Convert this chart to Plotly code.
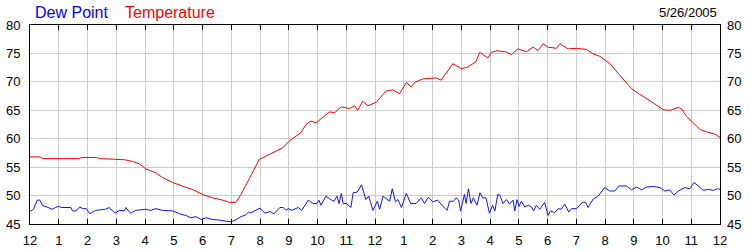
import plotly.graph_objects as go

# Temperature (°F) vs. hour of day (decimal hours, 0 = midnight)
temp_hours = [0.0, 0.35, 0.45, 1.0, 1.7, 1.8, 2.3, 2.45, 3.0, 3.3, 3.56, 3.8, 4.03, 4.38, 4.6,
              4.96, 5.34, 5.69, 6.0, 6.35, 6.7, 6.93, 7.16, 7.34, 7.63, 7.98, 8.32, 8.79, 9.02,
              9.43, 9.6, 9.77, 9.95, 10.41, 10.6, 10.82, 11.11, 11.29, 11.4, 11.57, 11.75, 12.04,
              12.39, 12.62, 12.85, 13.09, 13.26, 13.38, 13.66, 14.13, 14.3, 14.48, 14.71, 15.0,
              15.23, 15.52, 15.64, 15.93, 16.05, 16.28, 16.34, 16.55, 16.74, 16.97, 17.27, 17.5,
              17.67, 17.85, 18.02, 18.31, 18.43, 18.72, 19.01, 19.36, 19.59, 19.82, 20.17, 20.34,
              20.63, 20.92, 21.21, 21.45, 21.68, 22.02, 22.26, 22.55, 22.67, 22.84, 23.07, 23.31,
              23.6, 23.83, 24.0]
temp_values = [56.8, 56.8, 56.5, 56.5, 56.5, 56.7, 56.7, 56.5, 56.4, 56.3, 56.0, 55.6, 54.7, 54.0,
               53.2, 52.3, 51.6, 51.0, 50.2, 49.6, 49.2, 48.8, 48.8, 50.2, 53.0, 56.4, 57.2, 58.4,
               59.6, 61.1, 62.5, 63.1, 62.8, 64.7, 64.6, 65.6, 65.3, 65.8, 65.0, 66.6, 65.8, 66.4,
               68.4, 68.6, 67.9, 69.9, 69.1, 69.9, 70.5, 70.7, 70.3, 71.6, 73.2, 72.3, 72.6, 73.6,
               75.2, 74.2, 75.2, 75.5, 75.4, 75.3, 74.8, 75.8, 75.3, 76.1, 75.5, 76.7, 76.1, 75.9,
               76.7, 75.8, 75.9, 75.7, 74.9, 74.5, 73.2, 72.2, 70.4, 68.8, 67.8, 67.1, 66.3, 65.1,
               65.0, 65.5, 65.2, 63.9, 62.8, 61.6, 61.1, 60.8, 60.2]

# Dew point (°F) vs. hour of day
dew_hours = [0.0, 0.12, 0.25, 0.34, 0.43, 0.6, 0.78, 0.88, 0.99, 1.1, 1.42, 1.48, 1.6, 1.73, 1.83,
             1.96, 2.08, 2.29, 2.63, 2.75, 2.96, 3.1, 3.28, 3.33, 3.5, 3.68, 4.03, 4.2, 4.38, 4.61,
             4.96, 5.2, 5.42, 5.6, 5.77, 5.95, 6.12, 6.35, 6.58, 6.93, 7.05, 7.19, 7.34, 7.5, 7.6,
             7.65, 8.0, 8.17, 8.35, 8.49, 8.69, 8.81, 8.9, 8.98, 9.1, 9.33, 9.45, 9.68, 9.85, 9.97,
             10.05, 10.12, 10.29, 10.43, 10.57, 10.68, 10.75, 10.83, 10.89, 11.0, 11.16, 11.24,
             11.38, 11.53, 11.68, 11.78, 11.93, 12.08, 12.16, 12.28, 12.42, 12.51, 12.6, 12.71,
             12.8, 12.92, 13.09, 13.24, 13.43, 13.61, 13.72, 13.86, 14.01, 14.18, 14.36, 14.51,
             14.59, 14.73, 14.82, 14.91, 14.98, 15.11, 15.17, 15.25, 15.34, 15.42, 15.55, 15.65,
             15.75, 15.86, 15.98, 16.09, 16.17, 16.27, 16.34, 16.45, 16.57, 16.68, 16.8, 16.86,
             16.94, 17.01, 17.09, 17.21, 17.33, 17.44, 17.52, 17.61, 17.73, 17.9, 18.02, 18.1,
             18.25, 18.37, 18.48, 18.6, 18.74, 18.83, 19.01, 19.22, 19.33, 19.41, 19.59, 19.76,
             19.99, 20.17, 20.34, 20.49, 20.75, 20.92, 21.1, 21.27, 21.45, 21.68, 21.91, 22.08,
             22.25, 22.4, 22.55, 22.78, 22.95, 23.1, 23.24, 23.42, 23.59, 23.77, 23.91, 24.0]
dew_values = [47.2, 47.6, 49.2, 49.2, 48.3, 48.0, 47.6, 47.9, 48.1, 47.9, 47.9, 47.3, 47.3, 48.0,
              47.7, 47.7, 46.8, 47.4, 47.6, 47.9, 46.9, 47.4, 47.3, 47.9, 46.9, 47.4, 47.6, 47.4,
              47.7, 47.4, 47.3, 46.8, 46.5, 46.1, 46.3, 45.8, 46.1, 45.8, 45.7, 45.4, 45.5, 45.8,
              46.3, 46.6, 47.1, 46.9, 47.8, 46.9, 47.2, 46.8, 47.9, 47.9, 47.4, 47.7, 47.4, 47.9,
              47.4, 49.2, 48.6, 48.6, 49.2, 48.3, 49.9, 49.4, 49.0, 49.9, 48.6, 50.4, 48.6, 48.6,
              47.9, 50.5, 50.6, 51.9, 49.3, 49.9, 47.4, 49.0, 47.6, 49.9, 49.3, 49.0, 51.2, 48.9,
              49.3, 47.9, 50.4, 48.6, 48.6, 49.6, 48.6, 49.7, 48.9, 49.2, 48.1, 47.4, 49.0, 49.0,
              49.6, 49.2, 47.3, 50.2, 48.6, 51.2, 48.6, 49.6, 48.3, 50.5, 49.6, 49.6, 46.9, 48.3,
              47.3, 50.2, 50.1, 48.6, 49.3, 48.5, 49.2, 47.3, 49.3, 48.1, 49.0, 48.0, 48.3, 48.0,
              47.3, 48.3, 47.6, 48.8, 46.5, 47.3, 47.0, 47.7, 47.6, 48.5, 47.1, 47.7, 47.7, 48.8,
              48.8, 47.9, 49.4, 49.9, 51.4, 50.8, 50.8, 51.7, 51.7, 51.0, 51.5, 51.0, 51.5, 51.6,
              51.4, 50.8, 51.0, 50.1, 50.8, 51.4, 51.2, 52.3, 51.7, 50.9, 51.1, 50.9, 51.2, 51.1]

hour_ticks = list(range(0, 25))
hour_labels = ["12", "1", "2", "3", "4", "5", "6", "7", "8", "9", "10", "11",
               "12", "1", "2", "3", "4", "5", "6", "7", "8", "9", "10", "11", "12"]
y_ticks = [45, 50, 55, 60, 65, 70, 75, 80]
chart_date = "5/26/2005"

FONT = "Liberation Sans, Arial, sans-serif"
GRID = "#cccccc"

fig = go.Figure()
fig.add_trace(go.Scatter(x=dew_hours, y=dew_values, mode="lines", name="Dew Point",
                         line=dict(color="#1010ff", width=1)))
fig.add_trace(go.Scatter(x=temp_hours, y=temp_values, mode="lines", name="Temperature",
                         line=dict(color="#ff0000", width=1)))
fig.add_trace(go.Scatter(x=[None], y=[None], yaxis="y2", showlegend=False, hoverinfo="skip"))

fig.update_layout(
    width=750, height=250,
    margin=dict(l=30, r=30, t=25, b=26, autoexpand=False),
    paper_bgcolor="white", plot_bgcolor="white",
    showlegend=False,
    font=dict(family=FONT, size=13, color="#000000"),
    xaxis=dict(range=[0, 24], tickvals=hour_ticks, ticktext=hour_labels,
               showgrid=True, gridcolor=GRID, gridwidth=1,
               showline=True, linecolor="black", linewidth=1, mirror="ticks",
               ticks="inside", ticklen=5, tickcolor="black", tickwidth=1,
               zeroline=False, tickfont=dict(size=13), ticklabelstandoff=4,
               automargin=False),
    yaxis=dict(range=[45, 80], tickvals=y_ticks,
               showgrid=True, gridcolor=GRID, gridwidth=1,
               showline=True, linecolor="black", linewidth=1, mirror=True,
               ticks="", zeroline=False, tickfont=dict(size=13), ticklabelstandoff=6,
               automargin=False),
    yaxis2=dict(range=[45, 80], tickvals=y_ticks, overlaying="y", side="right", anchor="x",
                showgrid=False, showline=False, ticks="", zeroline=False,
                tickfont=dict(size=13), ticklabelstandoff=6, automargin=False),
)

plot_w = 750 - 30 - 30
plot_h = 250 - 25 - 26
def px_x(px):
    return (px - 30) / plot_w
def px_y(py):
    return (250 - 26 - py) / plot_h

fig.add_annotation(text="Dew Point", x=px_x(33), y=px_y(12), xref="paper", yref="paper",
                   xanchor="left", yanchor="middle", showarrow=False,
                   font=dict(family=FONT, size=16, color="#0000ff"))
fig.add_annotation(text="Temperature", x=px_x(123), y=px_y(12), xref="paper", yref="paper",
                   xanchor="left", yanchor="middle", showarrow=False,
                   font=dict(family=FONT, size=16, color="#ff0000"))
fig.add_annotation(text=chart_date, x=px_x(719), y=px_y(12), xref="paper", yref="paper",
                   xanchor="right", yanchor="middle", showarrow=False,
                   font=dict(family=FONT, size=13, color="#000000"))

fig.write_html("out.html")
